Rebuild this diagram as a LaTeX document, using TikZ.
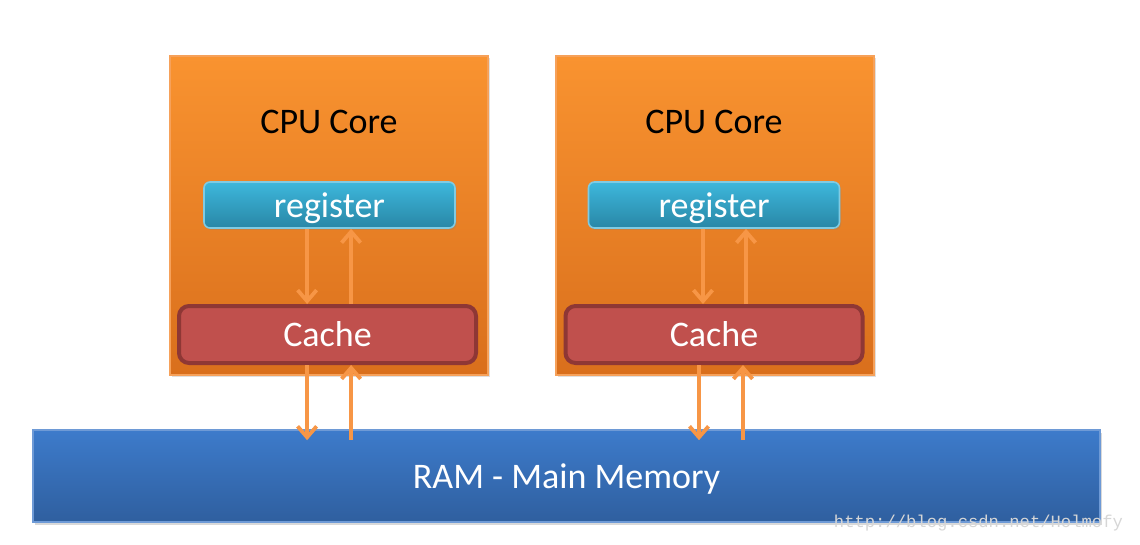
\documentclass[tikz,border=0pt]{standalone}
\usepackage{fontspec}
\setmainfont{Carlito}
\newfontfamily\wmfont{Liberation Mono}
\usetikzlibrary{arrows.meta,shadows}

\definecolor{coretop}{HTML}{F99330}
\definecolor{corebot}{HTML}{D96F1C}
\definecolor{coreline}{HTML}{F6A15A}
\definecolor{regtop}{HTML}{3DB7DC}
\definecolor{regbot}{HTML}{2987A6}
\definecolor{regline}{HTML}{7FCBE3}
\definecolor{cachefill}{HTML}{C0504D}
\definecolor{cacheline}{HTML}{8E3735}
\definecolor{ramtop}{HTML}{3D7BCB}
\definecolor{rambot}{HTML}{2F5F9F}
\definecolor{ramline}{HTML}{6E9AD6}
\definecolor{flowcol}{HTML}{F79646}

\tikzset{
  core/.style={draw=coreline, line width=1pt, top color=coretop, bottom color=corebot,
    minimum width=159pt, minimum height=159.5pt, inner sep=0pt,
    drop shadow={opacity=0.25, shadow xshift=1pt, shadow yshift=-1.2pt}},
  reg/.style={draw=regline, line width=0.8pt, rounded corners=3pt, top color=regtop, bottom color=regbot,
    minimum width=125.5pt, minimum height=23pt, inner sep=0pt, text=white,
    drop shadow={opacity=0.25, shadow xshift=0.8pt, shadow yshift=-1pt}},
  cache/.style={draw=cacheline, line width=2pt, rounded corners=5pt, fill=cachefill,
    minimum width=148.5pt, minimum height=28.5pt, inner sep=0pt, text=white},
  ram/.style={draw=ramline, line width=0.8pt, top color=ramtop, bottom color=rambot,
    minimum width=533.5pt, minimum height=46pt, inner sep=0pt, text=white,
    drop shadow={opacity=0.3, shadow xshift=1pt, shadow yshift=-1.5pt}},
  flow/.style={draw=flowcol, line width=2.1pt, -{Straight Barb[length=5.5pt,width=9.5pt,line width=1.9pt]}},
  big/.style={font=\fontsize{18}{21}\selectfont, text height=12.2pt, text depth=0pt}
}

\begin{document}
\begin{tikzpicture}[x=0.5pt, y=-0.5pt]
  \useasboundingbox (0,0) rectangle (1140,545);

  % processor cores
  \node[core] (core1) at (329,215.5) {};
  \node[core] (core2) at (714.5,215.5) {};
  \node[big] (title1) at (329,121) {CPU Core};
  \node[big] (title2) at (714,121) {CPU Core};

  \node[reg, big] (reg1) at (329.5,205) {register};
  \node[reg, big] (reg2) at (714,205) {register};

  \node[cache, big] (cache1) at (327.5,334.5) {Cache};
  \node[cache, big] (cache2) at (714,334.5) {Cache};

  % memory
  \node[ram, big] (ram) at (566.5,476) {RAM - Main Memory};

  % register <-> cache
  \draw[flow] ([xshift=-11.2pt]reg1.south) -- ([xshift=-11.2pt]reg1.south |- cache1.north);
  \draw[flow] ([xshift=10.8pt]reg1.south |- cache1.north) -- ([xshift=10.8pt]reg1.south);
  \draw[flow] ([xshift=-5.5pt]reg2.south) -- ([xshift=-5.5pt]reg2.south |- cache2.north);
  \draw[flow] ([xshift=16pt]reg2.south |- cache2.north) -- ([xshift=16pt]reg2.south);

  % cache <-> memory
  \draw[flow] ([xshift=-10.2pt]cache1.south) -- ([xshift=-10.2pt,yshift=-5.5pt]cache1.south |- ram.north);
  \draw[flow] ([xshift=11.8pt,yshift=-5.5pt]cache1.south |- ram.north) -- ([xshift=11.8pt]cache1.south);
  \draw[flow] ([xshift=-7.5pt]cache2.south) -- ([xshift=-7.5pt,yshift=-5.5pt]cache2.south |- ram.north);
  \draw[flow] ([xshift=14.5pt,yshift=-5.5pt]cache2.south |- ram.north) -- ([xshift=14.5pt]cache2.south);

  \node[text=black!16, font=\wmfont\fontsize{8.6}{10}\selectfont, anchor=east] (mark) at (1130,523) {http://blog.csdn.net/Holmofy};
\end{tikzpicture}
\end{document}
